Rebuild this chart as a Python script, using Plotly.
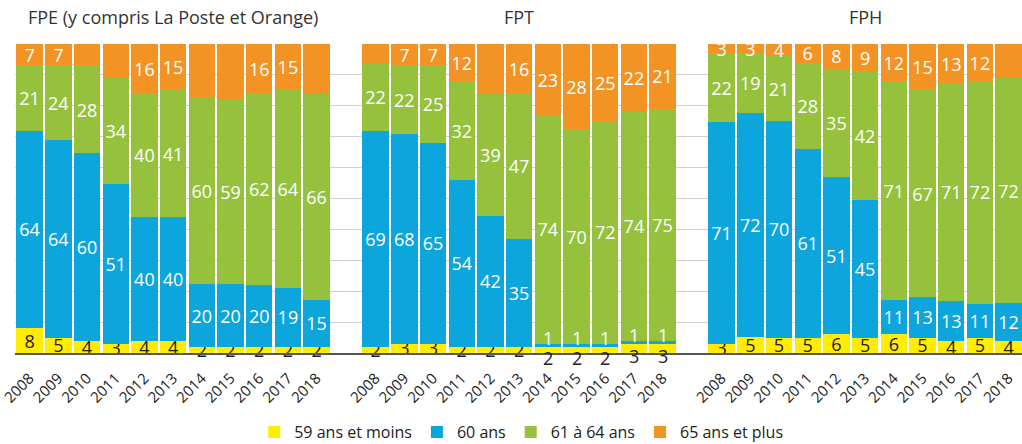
import plotly.graph_objects as go

years = ["2008", "2009", "2010", "2011", "2012", "2013", "2014", "2015", "2016", "2017", "2018"]
panels = ["FPE (y compris La Poste et Orange)", "FPT", "FPH"]
series_names = ["59 ans et moins", "60 ans", "61 à 64 ans", "65 ans et plus"]
colors = ["#FFEC00", "#0CA5DC", "#95C13D", "#F39323"]
text_colors = ["#222222", "white", "white", "white"]

fpe_59 = [8, 5, 4, 3, 4, 4, 2, 2, 2, 2, 2]
fpe_60 = [64, 64, 60, 51, 40, 40, 20, 20, 20, 19, 15]
fpe_61 = [21, 24, 28, 34, 40, 41, 60, 59, 62, 64, 66]
fpe_65 = [7, 7, 7, 11, 16, 15, 17, 18, 16, 15, 16]

fpt_59 = [2, 3, 3, 2, 2, 2, 2, 2, 2, 3, 3]
fpt_60 = [69, 68, 65, 54, 42, 35, 1, 1, 1, 1, 1]
fpt_61 = [22, 22, 25, 32, 39, 47, 74, 70, 72, 74, 75]
fpt_65 = [6, 7, 7, 12, 16, 16, 23, 28, 25, 22, 21]

fph_59 = [3, 5, 5, 5, 6, 5, 6, 5, 4, 5, 4]
fph_60 = [71, 72, 70, 61, 51, 45, 11, 13, 13, 11, 12]
fph_61 = [22, 19, 21, 28, 35, 42, 71, 67, 71, 72, 72]
fph_65 = [3, 3, 4, 6, 8, 9, 12, 15, 13, 12, 11]

data = [
    [fpe_59, fpe_60, fpe_61, fpe_65],
    [fpt_59, fpt_60, fpt_61, fpt_65],
    [fph_59, fph_60, fph_61, fph_65],
]

FONT = "Open Sans"
W, H = 1022, 444
top, bottom = 44, 353
pitch = 28.7
x0 = 15.0
panel_w = 346.0

fig = go.Figure()
annotations = []

for p, series in enumerate(data):
    xa = "x" if p == 0 else f"x{p + 1}"
    ya = "y" if p == 0 else f"y{p + 1}"
    # labels that the original moves apart (tiny stacked segments in FPT)
    moved = set()
    if p == 1:
        moved = {i for i, v in enumerate(series[1]) if v <= 1}
    for s, vals in enumerate(series):
        texts = []
        for i, v in enumerate(vals):
            if i in moved and s in (0, 1):
                texts.append("")
            else:
                texts.append(str(v))
        fig.add_trace(go.Bar(
            x=years, y=vals, name=series_names[s],
            marker=dict(color=colors[s], line=dict(width=0)),
            text=texts, textposition="inside", insidetextanchor="middle",
            textangle=0, cliponaxis=False,
            textfont=dict(family=FONT, size=18, color=text_colors[s]),
            xaxis=xa, yaxis=ya, showlegend=(p == 0),
            hoverinfo="skip",
        ))
    for i in sorted(moved):
        total = sum(series[k][i] for k in range(4))
        y59 = series[0][i] / total * 100
        y60 = series[1][i] / total * 100
        annotations.append(dict(x=i, y=y59 + y60 / 2, xref=xa, yref=ya,
                                text=str(series[1][i]), showarrow=False, yshift=7,
                                font=dict(family=FONT, size=18, color="white")))
        annotations.append(dict(x=i, y=y59 / 2, xref=xa, yref=ya,
                                text=str(series[0][i]), showarrow=False, yshift=-8,
                                font=dict(family=FONT, size=18, color="#222222")))
    annotations.append(dict(x=5, y=(bottom - 17) / (bottom - top), xref=xa, yref="paper",
                            text=panels[p], showarrow=False, yanchor="middle",
                            font=dict(family=FONT, size=18, color="#333333")))

layout = dict(
    width=W, height=H,
    margin=dict(l=0, r=0, t=top, b=H - bottom, pad=0, autoexpand=False),
    barmode="stack", barnorm="percent", bargap=0.08,
    plot_bgcolor="white", paper_bgcolor="white",
    font=dict(family=FONT, color="#222222"),
    uniformtext=dict(minsize=18, mode="show"),
    legend=dict(orientation="h", x=0.51, xanchor="center", y=-(432 - bottom) / (bottom - top),
                yanchor="middle", font=dict(family=FONT, size=16, color="#222222"),
                traceorder="normal", itemwidth=30, tracegroupgap=0),
)

for p in range(3):
    sfx = "" if p == 0 else str(p + 1)
    d0 = (x0 + p * panel_w) / W
    d1 = min((x0 + (p + 1) * panel_w) / W, 1.0)
    span = (d1 - d0) * W / pitch
    first_center = x0 + p * panel_w + 14.6
    r0 = -(first_center - (x0 + p * panel_w)) / pitch
    layout["xaxis" + sfx] = dict(
        domain=[d0, d1], type="category", range=[r0, r0 + span], automargin=False,
        tickangle=-45, tickfont=dict(family=FONT, size=15, color="#222222"),
        ticklabelstandoff=9,
        showline=True, linecolor="#555555", linewidth=1.5,
        showgrid=False, ticks="", anchor="y" + sfx,
    )
    layout["yaxis" + sfx] = dict(
        domain=[0, 1], range=[0, 100], dtick=10, showticklabels=False, automargin=False,
        showgrid=True, gridcolor="#D0D0D0", gridwidth=1, zeroline=False,
        anchor="x" + sfx, ticks="",
    )

fig.update_layout(**layout)
for a in annotations:
    fig.add_annotation(**a)
fig.write_html("out.html", config={"displayModeBar": False},
               post_script="document.body.style.margin='0px';document.body.style.overflow='hidden';")
